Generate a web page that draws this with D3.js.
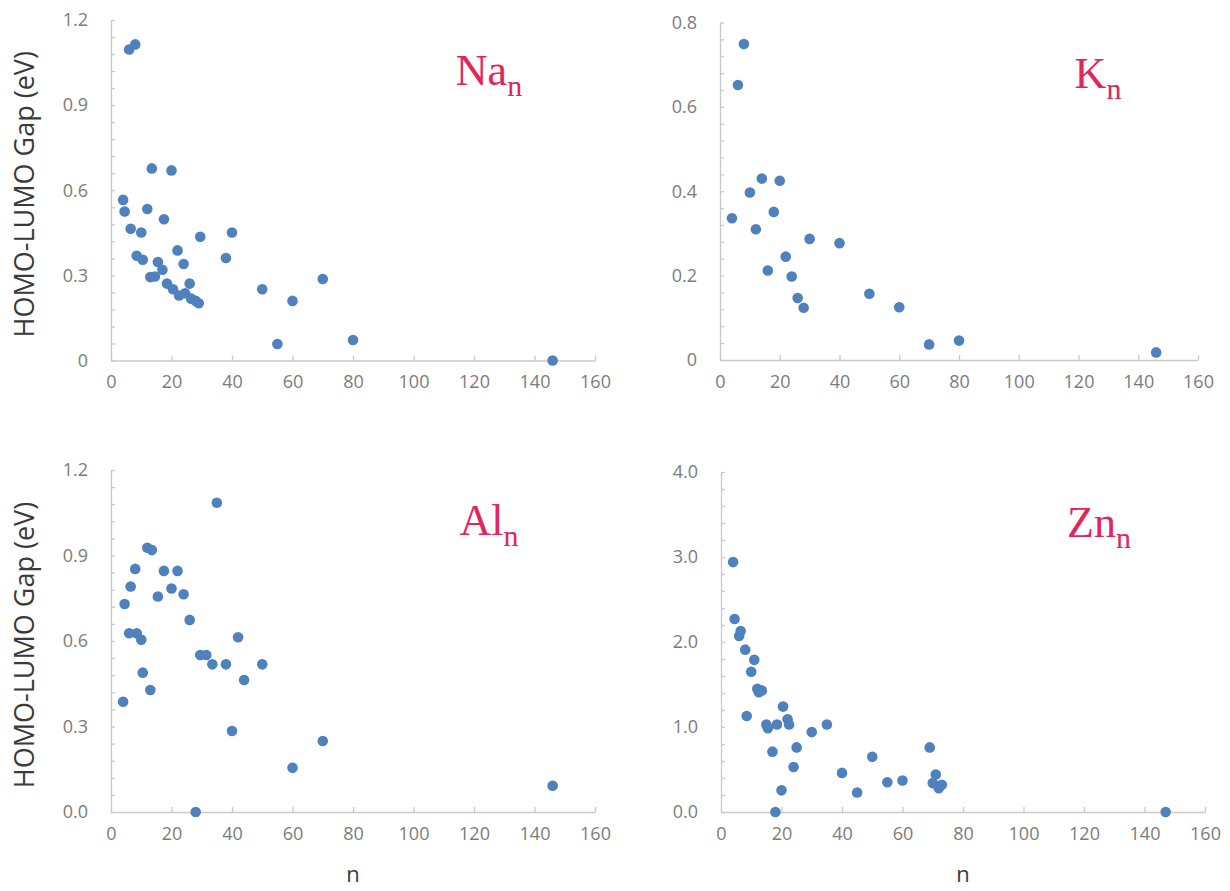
<!DOCTYPE html>
<html>
<head>
<meta charset="utf-8">
<script src="https://cdn.jsdelivr.net/npm/d3@7"></script>
<style>
body { margin: 0; background: #fff; }
</style>
</head>
<body>
<div id="my_dataviz"></div>
<script>
// HOMO-LUMO gap vs cluster size n
var naN = [4,4.5,6,8,6.5,8.5,10,10.5,12,13,13.5,14.5,15.5,17,17.5,18.5,20,20.5,22,22.5,24,24.5,26,26.5,28,29,29.5,38,40,50,55,60,70,80,146];
var naGap = [0.566,0.525,1.096,1.114,0.464,0.369,0.451,0.355,0.534,0.294,0.677,0.296,0.347,0.320,0.498,0.271,0.670,0.251,0.388,0.229,0.340,0.237,0.271,0.218,0.210,0.202,0.436,0.361,0.451,0.251,0.058,0.210,0.287,0.072,0.0];

var kN = [4,6,8,10,12,14,16,18,20,22,24,26,28,30,40,50,60,70,80,146];
var kGap = [0.336,0.652,0.749,0.397,0.310,0.430,0.212,0.351,0.425,0.245,0.198,0.147,0.124,0.287,0.277,0.157,0.125,0.037,0.046,0.018];

var alN = [4,4.5,6,6.5,8,8.5,10,10.5,12,13,13.5,15.5,17.5,20,22,24,26,28,29.5,31.5,33.5,35,38,40,42,44,50,60,70,146];
var alGap = [0.387,0.730,0.627,0.791,0.853,0.627,0.604,0.489,0.927,0.428,0.919,0.756,0.846,0.784,0.846,0.764,0.674,0.0,0.551,0.551,0.518,1.085,0.518,0.284,0.613,0.463,0.518,0.155,0.249,0.092];

var znN = [4,4.5,6,6.5,8,8.5,10,11,12,12.5,13.5,15,15.5,17,18,18.5,20,20.5,22,22.5,24,25,30,35,40,45,50,55,60,69,70,71,72,73,147];
var znGap = [2.94,2.27,2.07,2.13,1.91,1.13,1.65,1.79,1.45,1.41,1.43,1.03,0.985,0.71,0.0,1.03,0.255,1.24,1.09,1.03,0.53,0.76,0.94,1.03,0.46,0.23,0.65,0.35,0.37,0.76,0.34,0.44,0.28,0.32,0.0];

var xTicks = [0,20,40,60,80,100,120,140,160];
var naTicks = [0,0.3,0.6,0.9,1.2], naLabels = ["0","0.3","0.6","0.9","1.2"];
var kTicks = [0,0.2,0.4,0.6,0.8], kLabels = ["0","0.2","0.4","0.6","0.8"];
var alTicks = [0,0.3,0.6,0.9,1.2], alLabels = ["0.0","0.3","0.6","0.9","1.2"];
var znTicks = [0,1,2,3,4], znLabels = ["0.0","1.0","2.0","3.0","4.0"];

var titles = ["Na", "K", "Al", "Zn"];

var panels = [
  {el: titles[0], n: naN, gap: naGap, ticks: naTicks, labels: naLabels, left: 111, right: 595, top: 20, bottom: 360.5, ylab: true, xlab: false},
  {el: titles[1], n: kN, gap: kGap, ticks: kTicks, labels: kLabels, left: 720, right: 1198, top: 22.5, bottom: 360, ylab: false, xlab: false},
  {el: titles[2], n: alN, gap: alGap, ticks: alTicks, labels: alLabels, left: 111, right: 595, top: 470, bottom: 812, ylab: true, xlab: true},
  {el: titles[3], n: znN, gap: znGap, ticks: znTicks, labels: znLabels, left: 721, right: 1205, top: 472, bottom: 812, ylab: false, xlab: true}
];

var axisColor = "#c9c9c9",
    textColor = "#7c7c7c",
    dotColor = "#4f81bd",
    titleColor = "#e4245c";

var svg = d3.select("#my_dataviz")
  .append("svg")
  .attr("width", 1230)
  .attr("height", 891)
  .style("font-family", "'Open Sans', sans-serif");

svg.append("rect").attr("width", 1230).attr("height", 891).attr("fill", "#fff");

panels.forEach(function(p) {
  var yMax = p.ticks[p.ticks.length - 1];
  var x = d3.scaleLinear().domain([0, 160]).range([p.left, p.right]);
  var y = d3.scaleLinear().domain([0, yMax]).range([p.bottom, p.top]);

  var g = svg.append("g");

  // minor ticks on y, 5 per major step
  var minor = d3.range(0, 21).map(function(i) { return yMax * i / 20; });

  var yAxis = g.append("g")
    .attr("transform", "translate(" + p.left + ",0)")
    .call(d3.axisLeft(y).tickValues(minor).tickSize(-4).tickSizeOuter(0).tickFormat(""));
  yAxis.selectAll("line, path").attr("stroke", axisColor).attr("stroke-width", 1.3);

  var yLab = g.append("g")
    .attr("transform", "translate(" + p.left + ",0)")
    .call(d3.axisLeft(y).tickValues(p.ticks).tickSize(0).tickPadding(23)
      .tickFormat(function(d, i) { return p.labels[i]; }));
  yLab.select(".domain").remove();
  yLab.selectAll("text").attr("fill", textColor).style("font-size", "18px").style("font-family", "'Open Sans', sans-serif");

  var xAxis = g.append("g")
    .attr("transform", "translate(0," + p.bottom + ")")
    .call(d3.axisBottom(x).tickValues(xTicks).tickSize(-5).tickSizeOuter(0).tickPadding(15));
  xAxis.selectAll("line, path").attr("stroke", axisColor).attr("stroke-width", 1.3);
  xAxis.selectAll("text").attr("fill", textColor).style("font-size", "18px").style("font-family", "'Open Sans', sans-serif");

  g.selectAll("circle")
    .data(p.n)
    .enter()
    .append("circle")
      .attr("cx", function(d) { return x(d); })
      .attr("cy", function(d, i) { return y(p.gap[i]); })
      .attr("r", 5.3)
      .attr("fill", dotColor);

  var t = g.append("text")
    .attr("x", p.left + 378)
    .attr("y", p.top + 65)
    .attr("text-anchor", "middle")
    .attr("fill", titleColor)
    .style("font-family", "'Liberation Serif', 'Times New Roman', serif")
    .style("font-size", "44px");
  t.append("tspan").text(p.el);
  t.append("tspan").attr("dy", 11).style("font-size", "30px").text("n");

  if (p.ylab) {
    g.append("text")
      .attr("transform", "translate(" + 34 + "," + ((p.top + p.bottom) / 2 + 4) + ") rotate(-90)")
      .attr("text-anchor", "middle")
      .attr("fill", "#3a3a3a")
      .style("font-size", "27px")
      .text("HOMO-LUMO Gap (eV)");
  }
  if (p.xlab) {
    g.append("text")
      .attr("x", (p.left + p.right) / 2)
      .attr("y", p.bottom + 70)
      .attr("text-anchor", "middle")
      .attr("fill", "#3a3a3a")
      .style("font-size", "22px")
      .text("n");
  }
});
</script>
</body>
</html>
